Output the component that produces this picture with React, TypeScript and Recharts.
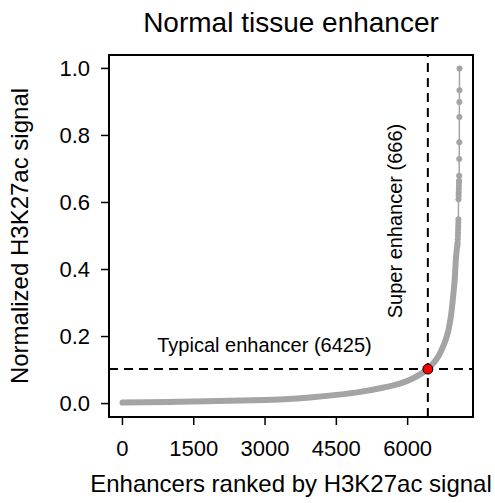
import {
  ComposedChart,
  Label,
  Line,
  ReferenceArea,
  ReferenceDot,
  ReferenceLine,
  XAxis,
  YAxis,
} from "recharts";

// ranked enhancers (dense part drawn as a thick curve)
const curveRank = [
  1, 500, 1000, 1500, 2000, 2500, 3000, 3500, 4000, 4500, 5000, 5500, 5800,
  6000, 6200, 6425, 6550, 6650, 6730, 6800, 6860, 6910, 6950, 6990, 7020, 7045,
];
const curveSignal = [
  0.003, 0.004, 0.005, 0.006, 0.008, 0.009, 0.011, 0.014, 0.019, 0.026, 0.035,
  0.048, 0.058, 0.068, 0.082, 0.103, 0.122, 0.142, 0.165, 0.19, 0.22, 0.26,
  0.31, 0.37, 0.44, 0.47,
];

// top-ranked enhancers, drawn as separate points
const tailRank = [
  7046, 7050, 7054, 7057, 7060, 7062, 7064, 7066, 7068, 7070, 7072, 7074, 7076,
  7078, 7080, 7082, 7084, 7086, 7087, 7088, 7089, 7090, 7091,
];
const tailSignal = [
  0.475, 0.48, 0.49, 0.5, 0.51, 0.52, 0.53, 0.54, 0.55, 0.61, 0.62, 0.63,
  0.64, 0.65, 0.66, 0.665, 0.68, 0.73, 0.78, 0.855, 0.9, 0.935, 1.0,
];

const rankTicks = [0, 1500, 3000, 4500, 6000];
const signalTicks = [0, 0.2, 0.4, 0.6, 0.8, 1.0];

const cutoffRank = 6425;
const cutoffSignal = 0.103;
const typicalCount = 6425;
const superCount = 666;

const curveData = curveRank.map((rank, i) => ({ rank, signal: curveSignal[i] }));
const tailData = tailRank.map((rank, i) => ({ rank, signal: tailSignal[i] }));

const X_DOMAIN: [number, number] = [-283, 7375];
const Y_DOMAIN: [number, number] = [-0.04, 1.04];
const FONT = "'Liberation Sans', Arial, Helvetica, sans-serif";
const GREY = "#a4a4a4";

export default function App() {
  return (
    <div
      style={{
        position: "absolute",
        left: 0,
        top: 0,
        width: 495,
        height: 503,
        background: "#fff",
        fontFamily: FONT,
      }}
    >
      <div
        style={{
          position: "absolute",
          left: 109,
          top: 9,
          width: 364,
          textAlign: "center",
          fontSize: 28,
          lineHeight: "28px",
          color: "#000",
        }}
      >
        Normal tissue enhancer
      </div>
      <ComposedChart
        width={495}
        height={503}
        margin={{ top: 55, right: 22, bottom: 0, left: 0 }}
        style={{ fontFamily: FONT }}
      >
        <XAxis
          type="number"
          dataKey="rank"
          domain={X_DOMAIN}
          ticks={rankTicks}
          allowDataOverflow
          height={86}
          axisLine={false}
          tickSize={8}
          tickMargin={15}
          tickLine={{ stroke: "#000", strokeWidth: 1.5 }}
          tick={{ fill: "#000", fontSize: 22 }}
        >
          <Label
            content={({ viewBox }: any) => (
              <text
                x={viewBox.x + viewBox.width / 2}
                y={viewBox.y + 75}
                textAnchor="middle"
                fontSize={24}
                fill="#000"
              >
                Enhancers ranked by H3K27ac signal
              </text>
            )}
          />
        </XAxis>
        <YAxis
          type="number"
          dataKey="signal"
          domain={Y_DOMAIN}
          ticks={signalTicks}
          allowDataOverflow
          width={109}
          axisLine={false}
          tickSize={8}
          tickMargin={11}
          tickFormatter={(v: number) => v.toFixed(1)}
          tickLine={{ stroke: "#000", strokeWidth: 1.5 }}
          tick={{ fill: "#000", fontSize: 22 }}
        >
          <Label
            content={({ viewBox }: any) => {
              const cx = 28;
              const cy = viewBox.y + viewBox.height / 2;
              return (
                <text
                  x={cx}
                  y={cy}
                  transform={`rotate(-90, ${cx}, ${cy})`}
                  textAnchor="middle"
                  fontSize={24}
                  fill="#000"
                >
                  Normalized H3K27ac signal
                </text>
              );
            }}
          />
        </YAxis>

        <Line
          data={curveData}
          dataKey="signal"
          type="monotone"
          stroke={GREY}
          strokeWidth={6}
          strokeLinecap="round"
          dot={false}
          activeDot={false}
          isAnimationActive={false}
        />
        <Line
          data={tailData}
          dataKey="signal"
          type="linear"
          stroke={GREY}
          strokeWidth={1.5}
          dot={{ r: 3, fill: GREY, stroke: "none" }}
          activeDot={false}
          isAnimationActive={false}
        />

        <ReferenceLine
          x={cutoffRank}
          stroke="#000"
          strokeWidth={2}
          strokeDasharray="9 6"
        >
          <Label
            content={({ viewBox }: any) => {
              const bx = viewBox.x - 26;
              const cy = viewBox.y + 166;
              return (
                <text
                  x={bx}
                  y={cy}
                  transform={`rotate(-90, ${bx}, ${cy})`}
                  textAnchor="middle"
                  fontSize={20}
                  fill="#000"
                >
                  {`Super enhancer (${superCount})`}
                </text>
              );
            }}
          />
        </ReferenceLine>
        <ReferenceLine
          y={cutoffSignal}
          stroke="#000"
          strokeWidth={2}
          strokeDasharray="9 6"
        >
          <Label
            content={({ viewBox }: any) => (
              <text
                x={viewBox.x + 155.5}
                y={viewBox.y - 17}
                textAnchor="middle"
                fontSize={20}
                fill="#000"
              >
                {`Typical enhancer (${typicalCount})`}
              </text>
            )}
          />
        </ReferenceLine>
        <ReferenceDot
          x={cutoffRank}
          y={cutoffSignal}
          r={5}
          fill="#ff0000"
          stroke="#000"
          strokeWidth={1}
        />
        <ReferenceArea
          x1={X_DOMAIN[0]}
          x2={X_DOMAIN[1]}
          y1={Y_DOMAIN[0]}
          y2={Y_DOMAIN[1]}
          fill="none"
          fillOpacity={0}
          stroke="#000"
          strokeWidth={2}
          ifOverflow="visible"
        />
      </ComposedChart>
    </div>
  );
}
